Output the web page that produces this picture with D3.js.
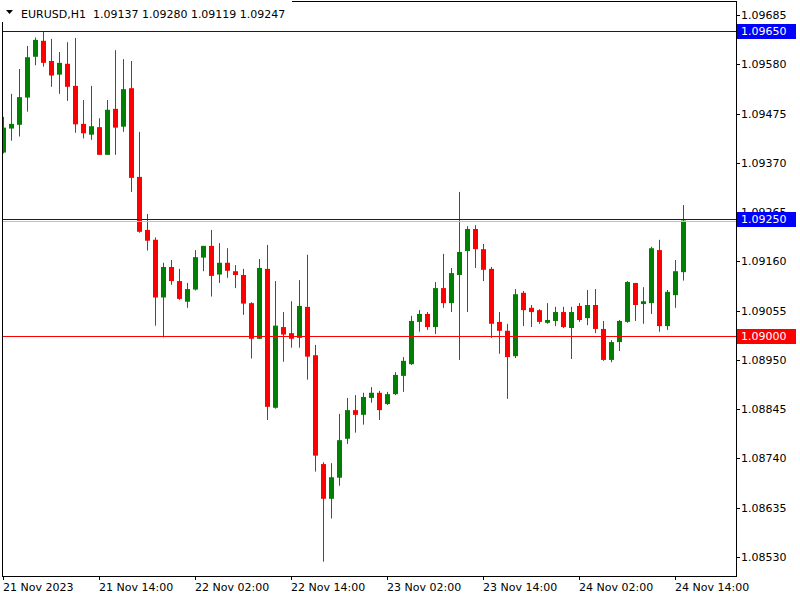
<!DOCTYPE html>
<html><head><meta charset="utf-8">
<script src="https://cdn.jsdelivr.net/npm/d3@7"></script>
<style>body{margin:0;background:#fff}svg{display:block}</style>
</head><body>
<svg id="c" width="800" height="600"></svg>
<script>
const opens = [1.09392,1.09443,1.09451,1.09509,1.09596,1.09630,1.09587,1.09558,1.09581,1.09534,
1.09453,1.09430,1.09446,1.09387,1.09485,1.09447,1.09529,1.09340,1.09227,1.09206,
1.09083,1.09148,1.09118,1.09074,1.09100,1.09168,1.09193,1.09132,1.09157,1.09139,
1.09131,1.09071,1.08995,1.09144,1.08848,1.09020,1.09007,1.08997,1.09063,1.08960,
1.08728,1.08654,1.08699,1.08782,1.08843,1.08833,1.08869,1.08880,1.08856,1.08877,
1.08916,1.08941,1.09031,1.09048,1.09020,1.09103,1.09071,1.09131,1.09182,1.09229,
1.09186,1.09144,1.09031,1.09012,1.08958,1.09093,1.09061,1.09056,1.09029,1.09033,
1.09052,1.09018,1.09065,1.09039,1.09067,1.09016,1.08950,1.08988,1.09031,1.09114,
1.09069,1.09071,1.09184,1.09022,1.09088,1.09137];
const highs = [1.09468,1.09517,1.09570,1.09619,1.09637,1.09651,1.09634,1.09606,1.09627,1.09636,
1.09504,1.09534,1.09465,1.09504,1.09610,1.09591,1.09587,1.09436,1.09261,1.09211,
1.09157,1.09163,1.09144,1.09114,1.09184,1.09193,1.09227,1.09199,1.09188,1.09152,
1.09144,1.09073,1.09165,1.09195,1.09118,1.09052,1.09075,1.09120,1.09174,1.08982,
1.08732,1.08730,1.08835,1.08869,1.08875,1.08880,1.08892,1.08884,1.08882,1.08924,
1.08956,1.09044,1.09056,1.09052,1.09116,1.09176,1.09146,1.09308,1.09235,1.09237,
1.09197,1.09148,1.09052,1.09027,1.09101,1.09097,1.09067,1.09058,1.09071,1.09063,
1.09063,1.09063,1.09071,1.09099,1.09101,1.09033,1.08992,1.09035,1.09118,1.09114,
1.09105,1.09191,1.09206,1.09099,1.09163,1.09280];
const lows = [1.09390,1.09417,1.09426,1.09479,1.09578,1.09575,1.09532,1.09517,1.09502,1.09434,
1.09422,1.09419,1.09387,1.09387,1.09387,1.09436,1.09308,1.09221,1.09183,1.09023,
1.08998,1.09110,1.09078,1.09061,1.09098,1.09139,1.09085,1.09114,1.09125,1.09103,
1.09046,1.08953,1.08995,1.08822,1.08846,1.08946,1.08976,1.08976,1.08908,1.08712,
1.08520,1.08612,1.08682,1.08771,1.08795,1.08812,1.08859,1.08822,1.08854,1.08875,
1.08882,1.08939,1.09010,1.09014,1.09005,1.09061,1.09052,1.08950,1.09052,1.09146,
1.09118,1.08997,1.08963,1.08867,1.08954,1.09022,1.09020,1.09027,1.09027,1.09022,
1.09018,1.08952,1.09031,1.09024,1.09007,1.08948,1.08945,1.08969,1.09029,1.09033,
1.09027,1.09048,1.09010,1.09014,1.09061,1.09119];
const closes = [1.09445,1.09453,1.09510,1.09595,1.09632,1.09583,1.09556,1.09583,1.09532,1.09452,
1.09433,1.09448,1.09387,1.09483,1.09445,1.09527,1.09338,1.09223,1.09204,1.09083,
1.09148,1.09118,1.09080,1.09101,1.09169,1.09193,1.09129,1.09157,1.09140,1.09131,
1.09070,1.08995,1.09146,1.08850,1.09023,1.09004,1.08995,1.09065,1.08957,1.08746,
1.08654,1.08700,1.08779,1.08843,1.08833,1.08871,1.08880,1.08843,1.08877,1.08918,
1.08948,1.09033,1.09048,1.09020,1.09103,1.09071,1.09135,1.09180,1.09229,1.09186,
1.09142,1.09027,1.09012,1.08956,1.09090,1.09056,1.09052,1.09031,1.09035,1.09052,
1.09020,1.09052,1.09035,1.09067,1.09016,1.08950,1.08988,1.09033,1.09116,1.09067,
1.09075,1.09188,1.09022,1.09095,1.09139,1.09247];

const priceTicks = [1.09685,1.09580,1.09475,1.09370,1.09265,1.09160,1.09055,1.08950,1.08845,1.08740,1.08635,1.08530];
const timeLabelIndex = [0,12,24,36,48,60,72,84];
const timeLabels = ["21 Nov 2023","21 Nov 14:00","22 Nov 02:00","22 Nov 14:00","23 Nov 02:00","23 Nov 14:00","24 Nov 02:00","24 Nov 14:00"];
const levelPrices = [1.09650, 1.09250, 1.09000];
const levelColors = ["#0000ff", "#0000ff", "#ff0000"];
const bidPrice = 1.09247;
const headerText = "EURUSD,H1  1.09137 1.09280 1.09119 1.09247";

const svg = d3.select("#c");
const L = 2, R = 736, T = 1, B = 576;
const y = d3.scaleLinear().domain([1.08530, 1.09685]).range([557, 15]);
const x = d3.scaleLinear().domain([0, 85]).range([3.5, 683.5]);
const font = "DejaVu Sans, Verdana, sans-serif";

svg.append("defs").append("clipPath").attr("id","plot")
  .append("rect").attr("x", L+0.5).attr("y", T).attr("width", R-L-0.5).attr("height", B-T);

const g = svg.append("g").attr("clip-path","url(#plot)");
const data = opens.map((o,i)=>({i, o, h:highs[i], l:lows[i], c:closes[i]}));
const col = d => d.c >= d.o ? "#008000" : "#ff0000";

g.selectAll("line.wick").data(data).enter().append("line")
  .attr("x1", d=>x(d.i)).attr("x2", d=>x(d.i))
  .attr("y1", d=>y(d.h)).attr("y2", d=>y(d.l))
  .attr("stroke", col).attr("stroke-width", 1);
g.selectAll("rect.body").data(data).enter().append("rect")
  .attr("x", d=>x(d.i)-2.5).attr("width", 5)
  .attr("y", d=>y(Math.max(d.o,d.c)))
  .attr("height", d=>Math.max(1, Math.abs(y(d.o)-y(d.c))))
  .attr("fill", col);

// bid line
g.append("line").attr("x1", L).attr("x2", R).attr("y1", Math.round(y(bidPrice))+0.5).attr("y2", Math.round(y(bidPrice))+0.5)
  .attr("stroke", "#c0c0c0").attr("stroke-width", 1);
// horizontal levels
levelPrices.forEach((p,k)=>{
  const yy = Math.round(y(p))+0.5;
  g.append("line").attr("x1", L).attr("x2", R).attr("y1", yy).attr("y2", yy)
    .attr("stroke", levelColors[k]).attr("stroke-width", 1);
});

// frame
svg.append("rect").attr("x", L+0.5).attr("y", T+0.5).attr("width", R-L).attr("height", B-T)
  .attr("fill","none").attr("stroke","#000").attr("stroke-width",1);

// right axis
const ax = svg.append("g");
priceTicks.forEach(p=>{
  const yy = Math.round(y(p))+0.5;
  ax.append("line").attr("x1", R).attr("x2", R+4).attr("y1", yy).attr("y2", yy).attr("stroke","#000");
  ax.append("text").attr("x", R+5).attr("y", yy).attr("dy","0.35em")
    .attr("font-family", font).attr("font-size", 11).attr("fill","#000").text(p.toFixed(5));
});
levelPrices.forEach((p,k)=>{
  const yy = Math.round(y(p));
  ax.append("rect").attr("x", R+1).attr("y", yy-7).attr("width", 59).attr("height", 15).attr("fill", levelColors[k]);
  ax.append("text").attr("x", R+5).attr("y", yy+0.5).attr("dy","0.35em")
    .attr("font-family", font).attr("font-size", 11).attr("fill","#fff").text(p.toFixed(5));
});

// bottom axis
timeLabelIndex.forEach((idx,k)=>{
  const xx = Math.round(x(idx)) - 0.5;
  svg.append("line").attr("x1", xx).attr("x2", xx).attr("y1", B).attr("y2", B+4).attr("stroke","#000");
  svg.append("text").attr("x", xx-0.5).attr("y", 591)
    .attr("font-family", font).attr("font-size", 11).attr("fill","#000").text(timeLabels[k]);
});

// header
svg.append("rect").attr("x", 0).attr("y", 0).attr("width", 292).attr("height", 22).attr("fill", "#fff");
svg.append("path").attr("d","M6,10 L13,10 L9.5,14 Z").attr("fill","#000");
svg.append("text").attr("x", 21).attr("y", 17.5).attr("font-family", font).attr("font-size", 11)
  .attr("fill","#000").attr("xml:space","preserve").style("white-space","pre").text(headerText);
</script>
</body></html>
